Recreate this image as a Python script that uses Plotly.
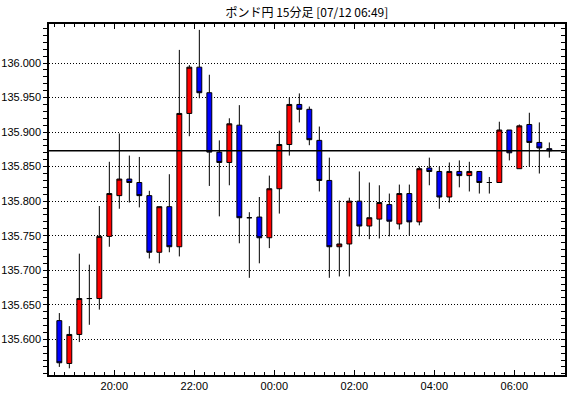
import plotly.graph_objects as go

times = [
    "2023-07-11 18:30", "2023-07-11 18:45", "2023-07-11 19:00", "2023-07-11 19:15",
    "2023-07-11 19:30", "2023-07-11 19:45", "2023-07-11 20:00", "2023-07-11 20:15",
    "2023-07-11 20:30", "2023-07-11 20:45", "2023-07-11 21:00", "2023-07-11 21:15",
    "2023-07-11 21:30", "2023-07-11 21:45", "2023-07-11 22:00", "2023-07-11 22:15",
    "2023-07-11 22:30", "2023-07-11 22:45", "2023-07-11 23:00", "2023-07-11 23:15",
    "2023-07-11 23:30", "2023-07-11 23:45", "2023-07-12 00:00", "2023-07-12 00:15",
    "2023-07-12 00:30", "2023-07-12 00:45", "2023-07-12 01:00", "2023-07-12 01:15",
    "2023-07-12 01:30", "2023-07-12 01:45", "2023-07-12 02:00", "2023-07-12 02:15",
    "2023-07-12 02:30", "2023-07-12 02:45", "2023-07-12 03:00", "2023-07-12 03:15",
    "2023-07-12 03:30", "2023-07-12 03:45", "2023-07-12 04:00", "2023-07-12 04:15",
    "2023-07-12 04:30", "2023-07-12 04:45", "2023-07-12 05:00", "2023-07-12 05:15",
    "2023-07-12 05:30", "2023-07-12 05:45", "2023-07-12 06:00", "2023-07-12 06:15",
    "2023-07-12 06:30", "2023-07-12 06:45",
]

opens = [135.627, 135.565, 135.607, 135.659, 135.659, 135.749, 135.808, 135.832, 135.827, 135.808,
         135.726, 135.792, 135.734, 135.927, 135.994, 135.957, 135.871, 135.856, 135.910, 135.776,
         135.777, 135.747, 135.818, 135.882, 135.940, 135.933, 135.888, 135.830, 135.734, 135.738,
         135.800, 135.764, 135.774, 135.795, 135.767, 135.811, 135.770, 135.848, 135.843, 135.806,
         135.843, 135.837, 135.843, 135.827, 135.827, 135.903, 135.847, 135.911, 135.885, 135.876]
highs = [135.638, 135.619, 135.724, 135.708, 135.793, 135.857, 135.898, 135.866, 135.864, 135.815,
         135.792, 135.839, 136.019, 135.997, 136.048, 135.983, 135.888, 135.920, 135.939, 135.784,
         135.806, 135.837, 135.902, 135.950, 135.956, 135.937, 135.908, 135.863, 135.801, 135.805,
         135.843, 135.827, 135.823, 135.811, 135.824, 135.824, 135.850, 135.863, 135.850, 135.856,
         135.859, 135.857, 135.843, 135.835, 135.915, 135.903, 135.911, 135.928, 135.914, 135.885]
lows = [135.560, 135.558, 135.596, 135.621, 135.643, 135.734, 135.789, 135.798, 135.791, 135.717,
        135.710, 135.726, 135.720, 135.894, 135.949, 135.822, 135.778, 135.823, 135.739, 135.689,
        135.710, 135.732, 135.782, 135.866, 135.914, 135.881, 135.814, 135.689, 135.691, 135.691,
        135.749, 135.745, 135.746, 135.749, 135.759, 135.750, 135.765, 135.823, 135.789, 135.798,
        135.820, 135.814, 135.811, 135.811, 135.827, 135.859, 135.847, 135.850, 135.840, 135.863]
closes = [135.566, 135.607, 135.659, 135.659, 135.749, 135.811, 135.832, 135.827, 135.808, 135.726,
          135.792, 135.734, 135.927, 135.994, 135.957, 135.871, 135.856, 135.912, 135.776, 135.776,
          135.747, 135.818, 135.882, 135.940, 135.933, 135.889, 135.830, 135.734, 135.738, 135.800,
          135.764, 135.776, 135.798, 135.771, 135.811, 135.770, 135.847, 135.843, 135.806, 135.843,
          135.837, 135.843, 135.827, 135.827, 135.903, 135.870, 135.909, 135.885, 135.877, 135.873]

y_ticks = [135.600, 135.650, 135.700, 135.750, 135.800, 135.850, 135.900, 135.950, 136.000]
y_tick_labels = ["135.600", "135.650", "135.700", "135.750", "135.800",
                 "135.850", "135.900", "135.950", "136.000"]

title_text = "ポンド円 15分足 [07/12 06:49]"
x_range = ["2023-07-11 18:22", "2023-07-12 07:16"]
y_range = [135.5483, 136.0565]

fig = go.Figure()
fig.add_trace(go.Candlestick(
    x=times, open=opens, high=highs, low=lows, close=closes,
    xperiod=15 * 60 * 1000, xperiodalignment="middle",
    increasing=dict(line=dict(color="black", width=1), fillcolor="#ff0000"),
    decreasing=dict(line=dict(color="black", width=1), fillcolor="#0000ff"),
    whiskerwidth=0, showlegend=False, hoverinfo="skip",
))
fig.add_trace(go.Scatter(
    x=[times[0]], y=[closes[-1]], yaxis="y2", mode="markers",
    marker=dict(opacity=0), showlegend=False, hoverinfo="skip",
))
fig.add_hline(y=closes[-1], line=dict(color="black", width=1.3))

tick_font = dict(family="Liberation Sans, Arial", size=11, color="black")

fig.update_layout(
    template="none",
    width=570, height=398,
    margin=dict(l=49, r=5, t=24, b=23, autoexpand=False),
    paper_bgcolor="white", plot_bgcolor="white",
    title=dict(text=title_text, x=0.5385, xanchor="center", y=0.968, yanchor="middle",
               font=dict(family="Noto Sans CJK JP", size=12, color="black")),
    xaxis=dict(
        type="date", range=x_range, rangeslider=dict(visible=False), automargin=False,
        showline=True, linecolor="black", linewidth=1.5, mirror="ticks",
        ticks="inside", ticklen=5, tickcolor="black", tickwidth=1,
        dtick=2 * 3600 * 1000, tick0="2023-07-11 20:00", tickformat="%H:%M",
        minor=dict(dtick=15 * 60 * 1000, ticks="inside", ticklen=3, tickcolor="black",
                   showgrid=False),
        showgrid=False, tickfont=tick_font, fixedrange=True, zeroline=False,
    ),
    yaxis=dict(
        range=y_range, automargin=False, showline=True, linecolor="black", linewidth=1.5,
        ticks="outside", ticklen=4, tickcolor="black",
        tickmode="array", tickvals=y_ticks, ticktext=y_tick_labels,
        minor=dict(dtick=0.01, tick0=135.6, ticks="outside", ticklen=4, tickcolor="black",
                   showgrid=False),
        showgrid=True, gridcolor="black", griddash="1px,2px", gridwidth=1,
        tickfont=tick_font, zeroline=False,
    ),
    yaxis2=dict(
        range=y_range, overlaying="y", side="right", showline=True, linecolor="black",
        linewidth=1.5, ticks="inside", ticklen=4, tickcolor="black", automargin=False,
        tickmode="array", tickvals=y_ticks, showticklabels=False,
        minor=dict(dtick=0.01, tick0=135.6, ticks="inside", ticklen=4, tickcolor="black",
                   showgrid=False),
        showgrid=False, zeroline=False,
    ),
)

fig.write_html("out.html", post_script="document.body.style.margin='0';",
               config={"displayModeBar": False})
